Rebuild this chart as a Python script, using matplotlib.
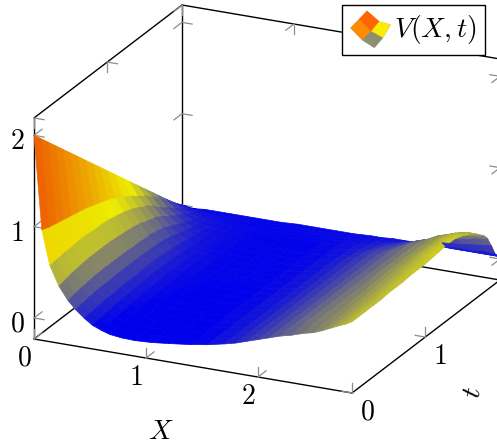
import numpy as np
import matplotlib
matplotlib.use("Agg")
import matplotlib.pyplot as plt
from matplotlib.colors import LinearSegmentedColormap, Normalize
from matplotlib.legend_handler import HandlerBase
from matplotlib.patches import Patch, Polygon
from mpl_toolkits.mplot3d import proj3d

plt.rcParams['mathtext.fontset'] = 'cm'
plt.rcParams['font.family'] = 'DejaVu Sans'

# ---- data ----
X_values = [0, .07, .14, .22, .30, .37, .45, .52, .60, .68, .78, .9, 1.05, 1.2, 1.4, 1.55, 1.7, 1.8, 1.9,
            2.0, 2.1, 2.2, 2.3, 2.4, 2.5, 2.58, 2.65, 2.72, 2.78, 2.84]
t_values = [0, .1, .2, .3, .4, .5, .6, .7, .8, .9, 1.0, 1.1, 1.2, 1.3, 1.4, 1.5, 1.6, 1.7, 1.8, 1.85, 1.9, 1.95, 2.0]
# one row for each X value, holding V along t_values
V_by_X = [
    [2, 1.9, 1.8, 1.7, 1.6, 1.5, 1.4, 1.3, 1.2, 1.1, 1.0, .9, .8, .7, .6, .5, .4, .3, .2, .15, .1, .05, 0],
    [.98, .95, .93, .91, .89, .87, .85, .82, .79, .76, .72, .67, .62, .56, .50, .42, .35, .26, .17, .13, .09, .05, 0],
    [.61, .62, .63, .63, .64, .64, .63, .63, .62, .60, .58, .55, .51, .46, .40, .32, .26, .19, .12, .09, .06, .03, 0],
    [.40, .42, .44, .45, .46, .46, .46, .46, .45, .44, .43, .41, .38, .35, .30, .24, .19, .14, .09, .07, .05, .03, .01],
    [.26, .28, .29, .30, .31, .31, .31, .31, .31, .30, .30, .29, .27, .25, .21, .17, .13, .09, .06, .05, .04, .02, .01],
    [.17, .18, .19, .20, .20, .20, .21, .21, .21, .21, .20, .20, .19, .17, .14, .12, .09, .07, .05, .04, .03, .02, .01],
    [.09, .10, .11, .12, .12, .13, .13, .13, .14, .14, .14, .13, .12, .11, .09, .08, .06, .05, .04, .03, .03, .02, .01],
    [.03, .04, .05, .06, .07, .07, .08, .08, .09, .09, .09, .09, .08, .07, .06, .05, .05, .04, .03, .03, .02, .02, .01],
    [-.01, 0, .01, .02, .03, .04, .05, .05, .05, .06, .06, .06, .05, .05, .04, .04, .03, .03, .03, .02, .02, .02, .01],
    [-.04, -.03, -.02, -.01, 0, .01, .02, .02, .03, .03, .04, .04, .04, .04, .03, .03, .03, .03, .02, .02, .02, .01, .01],
    [-.055, -.045, -.03, -.02, -.01, 0, 0, .01, .01, .02, .02, .02, .02, .02, .02, .02, .02, .02, .02, .01, .01, .01, .01],
    [-.06, -.05, -.04, -.03, -.02, -.01, -.01, 0, 0, .01, .01, .01, .01, .01, .01, .01, .01, .01, .01, .01, .01, .01, .01],
    [-.05, -.04, -.03, -.03, -.02, -.01, -.01, 0, 0, 0, .01, .01, .01, .01, .01, .01, .01, .01, .01, .01, .02, .02, .02],
    [-.03, -.03, -.02, -.02, -.01, -.01, 0, 0, 0, 0, .01, .01, .01, .01, .01, .01, .01, .01, .01, .01, .02, .02, .02],
    [0, 0, 0, 0, .01, .01, .01, .01, .01, .01, .01, .01, .01, .01, .01, .01, .01, .01, .01, .02, .02, .02, .02],
    [.03, .03, .03, .03, .03, .03, .03, .03, .03, .03, .03, .03, .03, .03, .03, .03, .03, .03, .03, .03, .03, .03, .02],
    [.07, .07, .07, .07, .07, .07, .07, .07, .07, .07, .07, .07, .07, .07, .07, .07, .06, .06, .05, .04, .04, .03, .03],
    [.10, .10, .10, .10, .10, .10, .10, .10, .10, .10, .10, .10, .10, .10, .10, .10, .09, .08, .07, .06, .05, .04, .03],
    [.14, .14, .14, .14, .14, .14, .14, .14, .14, .14, .14, .14, .14, .14, .14, .14, .13, .11, .09, .08, .06, .05, .04],
    [.18, .18, .18, .18, .18, .18, .18, .18, .18, .18, .18, .18, .18, .18, .18, .18, .17, .15, .12, .10, .08, .06, .04],
    [.22, .22, .22, .22, .22, .22, .22, .22, .22, .22, .22, .22, .22, .22, .22, .22, .20, .18, .15, .13, .10, .07, .04],
    [.26, .27, .27, .27, .27, .27, .27, .27, .27, .27, .27, .27, .27, .27, .27, .27, .25, .22, .19, .16, .12, .08, .04],
    [.29, .30, .31, .31, .31, .31, .31, .31, .31, .31, .31, .31, .31, .31, .31, .31, .31, .28, .23, .19, .14, .08, .04],
    [.33, .34, .35, .35, .35, .35, .35, .35, .35, .35, .36, .36, .36, .36, .36, .36, .35, .32, .26, .22, .16, .09, .04],
    [.36, .37, .38, .38, .38, .39, .39, .39, .40, .40, .41, .41, .41, .41, .41, .41, .41, .38, .30, .25, .17, .10, .04],
    [.40, .40, .41, .41, .42, .42, .43, .43, .44, .44, .45, .45, .45, .45, .45, .45, .45, .41, .33, .27, .18, .10, .04],
    [.44, .44, .44, .45, .45, .46, .46, .47, .47, .48, .49, .49, .50, .50, .50, .50, .48, .44, .35, .29, .19, .10, .04],
    [.48, .48, .48, .49, .49, .50, .50, .51, .51, .52, .53, .53, .54, .54, .54, .54, .51, .46, .37, .31, .20, .11, .04],
    [.51, .51, .52, .52, .52, .53, .53, .54, .54, .55, .55, .56, .57, .57, .58, .56, .52, .47, .38, .32, .21, .11, .04],
    [.55, .55, .55, .55, .55, .56, .56, .56, .57, .57, .57, .58, .59, .60, .60, .57, .53, .47, .39, .33, .22, .10, .04],
]
X_ticks = [0, 1, 2]
t_ticks = [0, 1]
z_ticks = [0, 1, 2]
X_tick_labels = ['$0$', '$1$', '$2$']
t_tick_labels = ['$0$', '$1$']
z_tick_labels = ['$0$', '$1$', '$2$']
series_label = '$V(X,t)$'

# ---- figure and axes ----
W, H = 497, 447
X0, X1 = 0, 2.84
T0, T1 = 0, 2.02
Z0, Z1 = -.23, 2.19
fig = plt.figure(figsize=(W / 100, H / 100), dpi=100)
ax = fig.add_axes([0, 0, H / W, 1], projection='3d', proj_type='ortho', computed_zorder=False)
ax.view_init(elev=21.1, azim=-64.75)
ax.set_box_aspect((351.6, 347, 236.9))
ax.set_xlim(X0, X1)
ax.set_ylim(T0, T1)
ax.set_zlim(Z0, Z1)
ax.set_axis_off()
ax.patch.set_alpha(0)


def to_pixels(x, y, z):
    x2, y2, _ = proj3d.proj_transform(x, y, z, ax.get_proj())
    return ax.transData.transform((x2, y2))


# place the box so that its front floor edge falls where the reference has it
for _ in range(2):
    fig.canvas.draw()
    pos = ax.get_position()
    a = to_pixels(X0, T0, Z0)
    b = to_pixels(X1, T0, Z0)
    s = (352 - 34) / (b[0] - a[0])
    left = 34 - (a[0] - pos.x0 * W) * s
    bottom = (H - 339) - (a[1] - pos.y0 * H) * s
    ax.set_position([left / W, bottom / H, pos.width * W * s / W, pos.height * H * s / H])
fig.canvas.draw()

# ---- box ----
box = dict(color='black', lw=1.0, zorder=1, solid_capstyle='round')
for (xs, ys, zs) in [
    ((X0, X0), (T0, T0), (Z0, Z1)),
    ((X0, X0), (T1, T1), (Z0, Z1)),
    ((X1, X1), (T1, T1), (Z0, Z1)),
    ((X0, X0), (T0, T1), (Z1, Z1)),
    ((X0, X1), (T1, T1), (Z1, Z1)),
    ((X0, X1), (T0, T0), (Z0, Z0)),
    ((X1, X1), (T0, T1), (Z0, Z0)),
    ((X0, X0), (T0, T1), (Z0, Z0)),
    ((X0, X1), (T1, T1), (Z0, Z0)),
]:
    ax.plot(xs, ys, zs, **box)

# ---- tick marks ----
tick = dict(color='#8c8c8c', lw=0.9, zorder=1.5)
dX, dT, dZ = .09, .11, .11
for v in X_ticks:
    ax.plot((v, v), (T0, T0 + dT), (Z0, Z0), **tick)
    ax.plot((v, v), (T0, T0), (Z0, Z0 + dZ), **tick)
    ax.plot((v, v), (T1, T1 - dT), (Z1, Z1), **tick)
    ax.plot((v, v), (T1, T1), (Z1, Z1 - dZ), **tick)
for v in t_ticks:
    ax.plot((X1, X1 - dX), (v, v), (Z0, Z0), **tick)
    ax.plot((X1, X1), (v, v), (Z0, Z0 + dZ), **tick)
    ax.plot((X0, X0 + dX), (v, v), (Z1, Z1), **tick)
    ax.plot((X0, X0), (v, v), (Z1, Z1 - dZ), **tick)
for v in z_ticks:
    ax.plot((X0, X0 + dX), (T0, T0), (v, v), **tick)
    ax.plot((X0, X0), (T0, T0 + dT), (v, v), **tick)
    ax.plot((X0, X0 + dX), (T1, T1), (v, v), **tick)
    ax.plot((X0, X0), (T1, T1 - dT), (v, v), **tick)
    ax.plot((X1, X1 - dX), (T1, T1), (v, v), **tick)
    ax.plot((X1, X1), (T1, T1 - dT), (v, v), **tick)

# ---- surface ----
hot = LinearSegmentedColormap.from_list('pgfhot', [(0, 0, 1), (1, 1, 0), (1, .5, 0), (1, 0, 0)], N=512)
norm = Normalize(0, 2.03)
Xg, Tg = np.meshgrid(X_values, t_values)
Zg = np.array(V_by_X).T
cell_means = (Zg[:-1, :-1] + Zg[1:, :-1] + Zg[:-1, 1:] + Zg[1:, 1:]) / 4
cell_colors = hot(norm(cell_means))
cell_colors[..., :3] *= .93  # the reference's fine dark mesh lines dull every cell a little
surf = dict(rstride=1, cstride=1, shade=False, linewidth=.5, antialiased=True)
ax.plot_surface(Xg, Tg, Zg, facecolors=cell_colors, zorder=2, **surf)
# the far rows show through at the right-hand end, beyond the crest
n_back, first_col = 3, 23
ax.plot_surface(Xg[-n_back:, first_col:], Tg[-n_back:, first_col:], Zg[-n_back:, first_col:],
                facecolors=cell_colors[-n_back + 1:, first_col:], zorder=3, **surf)


# ---- text ----
def label(text, x, y, z, ox, oy, rotation=0):
    x2, y2, _ = proj3d.proj_transform(x, y, z, ax.get_proj())
    ax.annotate(text, xy=(x2, y2), xytext=(ox, oy), textcoords='offset pixels',
                ha='center', va='center', fontsize=20, rotation=rotation,
                annotation_clip=False, zorder=6, color='black')


for v, s_ in zip(X_ticks, X_tick_labels):
    label(s_, v, T0, Z0, -10, -19)
for v, s_ in zip(t_ticks, t_tick_labels):
    label(s_, X1, v, Z0, 15, -19)
for v, s_ in zip(z_ticks, z_tick_labels):
    label(s_, X0, T0, v, -17, -6)
label('$X$', 1.42, T0, Z0, -32, -65)
label('$t$', X1, 1.0, Z0, 47, -55, rotation=78)


# ---- legend ----
class SurfaceIcon(HandlerBase):
    def create_artists(self, legend, orig, xdescent, ydescent, width, height, fontsize, trans):
        k = 0.72 / 3
        quads = [
            ([(150, 82), (176, 55), (212, 92), (185, 118)], '#ff8c00'),
            ([(176, 55), (200, 30), (237, 62), (212, 92)], '#ff6600'),
            ([(212, 92), (237, 62), (272, 72), (248, 112)], '#ffeb00'),
            ([(185, 118), (212, 92), (248, 112), (222, 142)], '#8e8e70'),
        ]
        out = []
        for pts, col in quads:
            xy = [((px - 150) * k, (110 - py) * k) for px, py in pts]
            out.append(Polygon(xy, closed=True, facecolor=col, edgecolor=(0, 0, 0, .15),
                               lw=.3, transform=trans))
        return out


proxy = Patch(label=series_label)
fig.legend(handles=[proxy], handler_map={Patch: SurfaceIcon()},
           loc='upper left', bbox_to_anchor=(342 / W, 1 - 5 / H), bbox_transform=fig.transFigure,
           fontsize=20, fancybox=False, edgecolor='black', framealpha=1, borderaxespad=0,
           borderpad=.3, handlelength=1.5, handletextpad=.06).get_frame().set_linewidth(1.0)

fig.savefig('out.png', dpi=100)
